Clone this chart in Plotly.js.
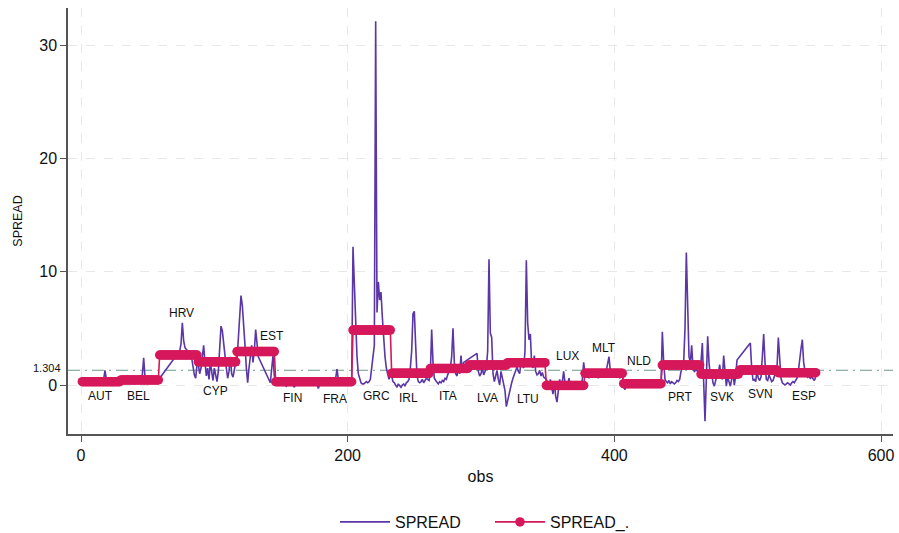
<!DOCTYPE html>
<html><head><meta charset="utf-8">
<script src="https://cdn.plot.ly/plotly-3.0.1.min.js"></script>
<style>html,body{margin:0;padding:0;background:#fff}#chart{width:899px;height:533px}</style>
</head><body><div id="chart"></div>
<script>
// Countries (29 observations each, in order)
const countries = ["AUT","BEL","HRV","CYP","EST","FIN","FRA","GRC","IRL","ITA","LVA","LTU","LUX","MLT","NLD","PRT","SVK","SVN","ESP"];

// SPREAD values per country (null = missing)
const AUT = [0.2,0.1,0.1,0.0,0.1,0.2,0.1,0.3,0.2,0.2,0.3,0.3,0.2,0.4,0.6,0.4,0.5,1.3,0.5,0.3,0.2,0.3,0.2,0.2,0.3,0.2,0.2,0.2,0.3];
const BEL = [0.3,0.2,0.4,0.3,0.2,0.3,0.3,0.2,0.3,0.2,0.1,0.2,0.3,0.5,0.8,0.6,0.9,2.4,0.7,0.4,0.3,0.3,0.2,0.3,0.2,0.3,0.3,0.3,0.4];
const HRV = [0.6,null,null,null,null,null,null,null,null,null,null,null,null,null,null,3.0,3.6,5.5,3.9,3.3,3.1,3.0,2.9,2.8,2.4,1.6,0.9,0.6,1.8];
const CYP = [1.8,1.0,1.5,2.5,3.5,2.0,0.8,1.5,0.5,2.0,1.0,0.4,1.5,0.9,0.3,1.2,3.5,5.2,4.8,3.5,2.8,1.5,0.6,1.2,2.5,1.0,0.7,1.5,2.0];
const EST = [2.2,4.0,6.5,7.9,7.0,5.5,3.5,1.5,0.2,1.5,2.5,3.5,2.0,3.0,4.9,3.8,2.5,null,null,null,null,null,null,null,null,0.2,1.2,2.6,0.8];
const FIN = [0.5,0.3,0.2,0.2,0.1,0.2,0.1,0.0,-0.1,0.1,0.2,0.2,0.1,0.0,-0.2,0.1,0.2,0.3,0.2,0.2,0.3,0.2,0.3,0.2,0.2,0.3,0.4,0.3,0.2];
const FRA = [0.3,0.2,0.1,-0.3,0.1,0.2,0.2,0.3,0.2,0.2,0.3,0.2,0.3,0.4,0.3,0.5,0.6,1.4,0.5,0.3,0.2,0.3,0.2,0.3,0.2,0.3,0.2,0.3,0.4];
const GRC = [12.2,8.5,4.5,2.5,1.0,0.5,0.2,0.1,0.1,0.2,0.3,0.2,0.3,0.5,1.8,2.5,3.5,32.1,6.4,9.1,7.5,8.2,6.0,4.0,2.5,1.5,0.8,0.5,1.0];
const IRL = [0.8,0.3,0.2,0.0,-0.2,0.1,-0.1,-0.2,0.0,0.1,-0.1,0.2,0.3,0.5,1.5,3.0,6.3,6.5,3.5,0.8,0.3,0.2,0.3,0.5,0.2,0.4,0.6,0.5,0.4];
const ITA = [1.0,4.9,2.0,0.6,0.4,0.2,0.1,0.3,0.2,0.4,0.3,0.6,0.5,0.9,1.2,1.5,2.5,5.0,2.0,1.0,0.8,1.5,1.0,2.6,1.2,2.0,null,null,null];
const LVA = [null,null,null,null,null,null,2.8,1.2,0.8,1.0,1.5,0.9,1.2,1.5,3.0,11.1,4.6,4.2,1.0,0.3,0.8,1.3,0.5,0.0,1.2,0.6,0.0,-0.5,-1.9];
const LTU = [-1.3,-0.8,-0.3,0.2,0.6,1.0,1.4,1.6,1.2,1.0,2.0,1.8,1.5,3.0,11.0,5.5,4.0,4.5,1.8,1.5,2.6,1.2,0.9,1.0,1.3,0.8,1.1,0.7,0.6];
const LUX = [0.5,0.2,-0.3,0.5,-0.4,-0.8,0.3,-1.0,-1.5,-0.3,0.5,-0.2,0.3,1.2,0.2,-0.2,0.0,0.6,-0.2,0.2,-0.1,0.0,0.3,-0.2,0.1,-0.3,0.2,0.5,2.0];
const MLT = [1.0,0.8,1.2,0.6,0.9,1.1,0.7,1.3,0.8,1.0,0.6,1.2,0.9,0.8,1.0,1.1,1.3,2.0,2.5,1.2,0.9,1.0,0.7,0.9,0.8,1.0,0.6,0.8,0.9];
const NLD = [-0.2,-0.4,0.0,0.1,0.0,0.1,0.1,0.0,0.1,0.2,0.1,0.0,0.1,0.3,0.5,0.2,0.1,0.0,0.1,0.0,0.1,0.0,0.1,0.0,0.1,0.0,0.1,0.1,0.0];
const PRT = [4.7,2.0,0.5,0.3,0.2,0.4,0.1,0.3,0.2,0.1,0.2,0.4,0.3,0.5,1.2,1.5,2.0,5.0,11.7,6.0,2.5,2.0,3.5,1.5,1.2,1.3,1.3,1.0,1.0];
const SVK = [2.0,3.7,0.3,-3.2,0.5,4.3,2.0,0.8,1.0,0.2,-0.1,0.5,0.9,1.0,1.8,0.7,0.5,2.6,0.8,-0.1,0.7,0.3,-0.1,0.5,1.0,0.0,0.8,2.2,null];
const SVN = [null,null,null,null,null,null,null,null,3.7,1.5,0.4,0.5,0.3,1.2,0.6,0.4,0.7,2.5,4.5,2.0,0.5,0.4,0.9,0.6,0.3,0.4,0.8,1.0,1.5];
const ESP = [4.2,2.5,0.6,0.2,0.1,0.0,0.1,0.2,0.1,0.0,0.2,0.3,0.2,0.4,0.6,1.2,2.5,3.2,4.0,2.0,1.2,0.9,0.7,0.8,0.6,0.7,0.5,0.4,0.7];

// SPREAD_. : country means
const countryMeans = [0.30,0.45,2.65,2.05,2.95,0.29,0.29,4.85,1.03,1.47,1.76,1.97,-0.03,1.03,0.12,1.76,0.97,1.32,1.09];
const overallMean = 1.304;

// country label anchor (obs, value)
const labelObs = [14.25,42.75,75,100.5,143.25,158.25,190.5,221.25,245.25,275.25,304.5,335.25,364.5,392.25,418.5,449.25,480.75,509.25,542.25];
const labelVal = [-0.97,-0.97,6.35,-0.53,4.32,-1.15,-1.24,-0.97,-1.15,-0.97,-1.15,-1.24,2.56,3.26,2.12,-1.06,-1.06,-0.79,-0.97];

const spreadByCountry = [AUT,BEL,HRV,CYP,EST,FIN,FRA,GRC,IRL,ITA,LVA,LTU,LUX,MLT,NLD,PRT,SVK,SVN,ESP];

const obs = [], spread = [], spreadMean = [];
let n = 0;
spreadByCountry.forEach((arr, i) => {
  arr.forEach(v => { n++; obs.push(n); spread.push(v); spreadMean.push(countryMeans[i]); });
});

const FONT = "Liberation Sans, Arial, Helvetica, sans-serif";
const purple = "#5a36a6";
const red = "#d6185b";

const traces = [
  {x: obs, y: spread, type: "scatter", mode: "lines", name: "SPREAD", connectgaps: true,
   line: {color: purple, width: 1.6}},
  {x: obs, y: spreadMean, type: "scatter", mode: "lines+markers", name: "SPREAD_.",
   line: {color: red, width: 1.6}, marker: {color: red, size: 9.5}}
];

const annotations = countries.map((c, i) => ({
  x: labelObs[i], y: labelVal[i], xref: "x", yref: "y", text: c, showarrow: false,
  xanchor: "center", yanchor: "middle", font: {family: FONT, size: 12, color: "#111"}
}));
annotations.push({x: 0, xref: "paper", y: overallMean, yref: "y", text: String(overallMean), showarrow: false,
  xanchor: "right", yanchor: "middle", xshift: -5, yshift: 2, font: {family: FONT, size: 11, color: "#111"}});

const layout = {
  width: 899, height: 533,
  margin: {l: 68, r: 6, t: 8, b: 99},
  paper_bgcolor: "#fff", plot_bgcolor: "#fff",
  font: {family: FONT, color: "#111"},
  showlegend: true,
  legend: {orientation: "h", xref: "container", x: 0.3726, xanchor: "left",
    yref: "container", y: 0.0206, yanchor: "middle",
    font: {family: FONT, size: 16, color: "#111"}, itemwidth: 50, entrywidth: 90},
  xaxis: {range: [-9.75, 609], tickvals: [0, 200, 400, 600], ticks: "outside", ticklen: 6,
    tickcolor: "#555", tickwidth: 1.2, showline: true, linecolor: "#555", linewidth: 1.5,
    showgrid: true, gridcolor: "#e8e8e8", gridwidth: 1.2, griddash: "dash", zeroline: false,
    automargin: false,
    tickfont: {family: FONT, size: 16, color: "#111"},
    title: {text: "obs", font: {family: FONT, size: 16, color: "#111"}, standoff: 8}},
  yaxis: {range: [-4.32, 33.27], tickvals: [0, 10, 20, 30], ticks: "outside", ticklen: 6,
    tickcolor: "#555", tickwidth: 1.2, showline: true, linecolor: "#555", linewidth: 1.5,
    showgrid: true, gridcolor: "#e8e8e8", gridwidth: 1.2, griddash: "dash", zeroline: false,
    automargin: false,
    tickfont: {family: FONT, size: 16, color: "#111"},
    title: {text: "SPREAD", font: {family: FONT, size: 12.5, color: "#111"}, standoff: 14}},
  shapes: [{type: "line", xref: "paper", x0: 0, x1: 1, yref: "y", y0: overallMean, y1: overallMean,
    layer: "between", line: {color: "#6e9a8c", width: 1.2, dash: "12px,5px,2px,5px"}}],
  annotations: annotations
};

Plotly.newPlot("chart", traces, layout, {displayModeBar: false, responsive: false});
</script>
</body></html>
